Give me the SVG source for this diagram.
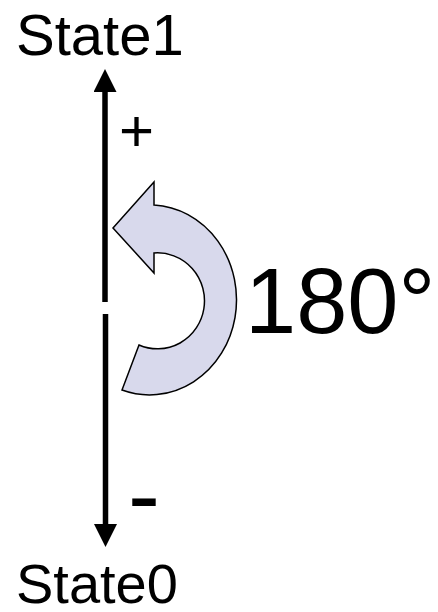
<svg xmlns="http://www.w3.org/2000/svg" width="438" height="612" viewBox="0 0 438 612">
  <style>
    .lbl { font-family: "Liberation Sans", Arial, sans-serif; fill: #000; }
    .axis { stroke: #000; stroke-width: 5.5; fill: none; marker-end: url(#head); }
  </style>
  <defs>
    <marker id="head" markerUnits="userSpaceOnUse" markerWidth="23" markerHeight="23" viewBox="0 0 23 23" refX="0" refY="11.5" orient="auto">
      <path d="M0,0 L23,11.5 L0,23 Z" fill="#000"/>
    </marker>
  </defs>
  <rect width="438" height="612" fill="#fff"/>
  <g id="connectors">
    <line class="axis" x1="105" y1="302" x2="105" y2="92"/>
    <line class="axis" x1="105.5" y1="314" x2="105.5" y2="524"/>
  </g>
  <g id="state1">
    <text class="lbl" x="16" y="55" font-size="58">State1</text>
  </g>
  <g id="state0">
    <text class="lbl" x="16" y="603" font-size="56">State0</text>
  </g>
  <g id="plus">
    <text class="lbl" x="119" y="151" font-size="60">+</text>
  </g>
  <g id="minus">
    <text class="lbl" x="128" y="528" font-size="96">-</text>
  </g>
  <g id="rotation">
    <path d="M113,228 L154,182 L154,205 A87,95 0 1 1 122,390 L139,345 A47,48 0 1 0 154,253 L154,273 Z" fill="#d8d9ec" stroke="#000" stroke-width="1.5" stroke-linejoin="miter"/>
  </g>
  <g id="angle">
    <text class="lbl" x="245" y="333" font-size="92">180°</text>
  </g>
</svg>
